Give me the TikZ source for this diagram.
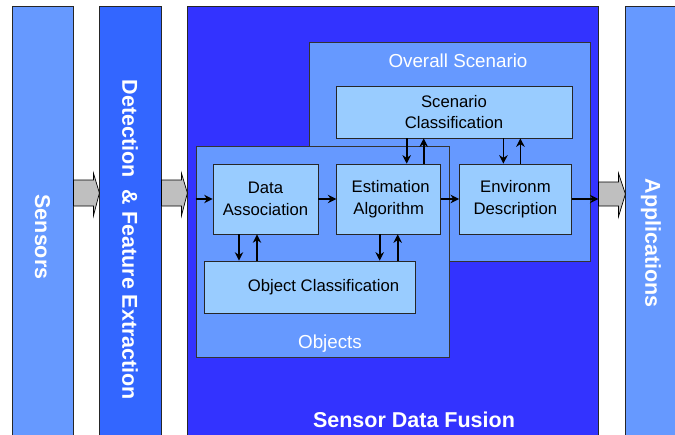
\documentclass[tikz,border=0pt]{standalone}
\usepackage{fontspec}
\setmainfont{Liberation Sans}
\usetikzlibrary{positioning, arrows.meta}
\definecolor{paleblue}{HTML}{6699FF}
\definecolor{midblue}{HTML}{3366FF}
\definecolor{deepblue}{HTML}{3333FF}
\definecolor{skyblue}{HTML}{99CCFF}
\tikzset{
stage/.style={draw=black!85, line width=0.8pt, inner sep=0pt, minimum height=440pt}, % the tall columns
stagetitle/.style={text=white, font=\fontsize{21.5}{24}\selectfont\bfseries, rotate=-90},
area/.style={draw=black!80, line width=0.7pt, fill=paleblue, inner sep=0pt}, % grouping boxes
arealabel/.style={text=white, font=\fontsize{18.8}{22}\selectfont},
block/.style={draw=black!85, line width=0.7pt, fill=skyblue, inner sep=0pt, align=center,
  minimum height=70pt, font=\fontsize{16.7}{21.5}\selectfont},
flow/.style={line width=1.7pt, -{Stealth[length=8.5pt,width=8.5pt]}}, % the data arrows
bigarrow/.style={draw=black, fill=black!25, line width=0.7pt, line join=miter},
}
\begin{document}
\begin{tikzpicture}[x=1pt, y=-1pt]
  \clip (0,0) rectangle (675,434);
  \fill[white] (0,0) rectangle (675,434);

  % stages
  \node[stage, fill=paleblue, minimum width=61pt] (sensors) at (42.5,226) {};
  \node[stage, fill=midblue, minimum width=62pt] (detect) at (130,226) {};
  \node[stage, fill=deepblue, minimum width=411pt] (fusion) at (392.5,226) {};
  \node[stage, fill=paleblue, minimum width=65pt] (apps) at (657.5,226) {};
  \node[stagetitle] (sensorslbl) at (42.5,237) {Sensors};
  \node[stagetitle] (detectlbl) at (130,240) {Detection\ \ \& Feature Extraction};
  \node[stagetitle] (appslbl) at (651,243) {Applications};
  \node[text=white, font=\fontsize{21.5}{24}\selectfont\bfseries] (fusionlbl) at (414,420) {Sensor Data Fusion};

  % block arrows between the stages
  \draw[bigarrow] (sensors.east |- 0,180) -- ++(20,0) -- ++(0,-7) -- ++(6,20)
    -- ++(-6,23) -- ++(0,-10) -- ++(-20,0) -- cycle;
  \draw[bigarrow] (detect.east |- 0,180) -- ++(20,0) -- ++(0,-7) -- ++(6,20)
    -- ++(-6,23) -- ++(0,-10) -- ++(-20,0) -- cycle;
  \draw[bigarrow] (fusion.east |- 0,182) -- ++(20,0) -- ++(0,-9) -- ++(7,21)
    -- ++(-7,23) -- ++(0,-11) -- ++(-20,0) -- cycle;

  % overall scenario and objects
  \node[area, minimum width=281pt, minimum height=219pt] (scenario) at (449.5,151.5) {};
  \node[arealabel] (scenariolbl) at (458,61) {Overall Scenario};
  \node[block, minimum width=236pt, minimum height=52pt] (scencls) at (454,112) {Scenario\\Classification};
  \node[area, minimum width=253pt, minimum height=211pt] (objects) at (322.5,251.5) {};
  \node[arealabel] (objectslbl) at (330,344) {Objects};

  \node[block, minimum width=105pt] (assoc) at (265.5,199) {Data\\Association};
  \node[block, minimum width=104pt, right=18pt of assoc] (estim) {\hspace*{4pt}Estimation\\Algorithm};
  \node[block, minimum width=112pt, right=18pt of estim] (environ) {Environm\\Description};
  \node[block, minimum width=211pt, minimum height=52pt] (objcls) at (309.5,287) {\hspace*{28pt}Object Classification};

  \draw[flow] (objects.west |- assoc) -- (assoc.west);
  \draw[flow] (assoc) -- (estim);
  \draw[flow] (estim) -- (environ);
  \draw[flow] (environ.east) -- (fusion.east |- environ);

  \draw[flow] ([xshift=-26.5pt]assoc.south) -- ([xshift=-26.5pt]assoc.south |- objcls.north);
  \draw[flow] ([xshift=-8.5pt]assoc.south |- objcls.north) -- ([xshift=-8.5pt]assoc.south);
  \draw[flow] ([xshift=-9pt]estim.south) -- ([xshift=-9pt]estim.south |- objcls.north);
  \draw[flow] ([xshift=9pt]estim.south |- objcls.north) -- ([xshift=9pt]estim.south);
  \draw[flow] ([xshift=18pt]estim.north |- scencls.south) -- ([xshift=18pt]estim.north);
  \draw[flow] ([xshift=35pt]estim.north) -- ([xshift=35pt]estim.north |- scencls.south);
  \draw[flow] ([xshift=-12pt]environ.north |- scencls.south) -- ([xshift=-12pt]environ.north);
  \draw[flow] ([xshift=5pt]environ.north) -- ([xshift=5pt]environ.north |- scencls.south);
\end{tikzpicture}
\end{document}
